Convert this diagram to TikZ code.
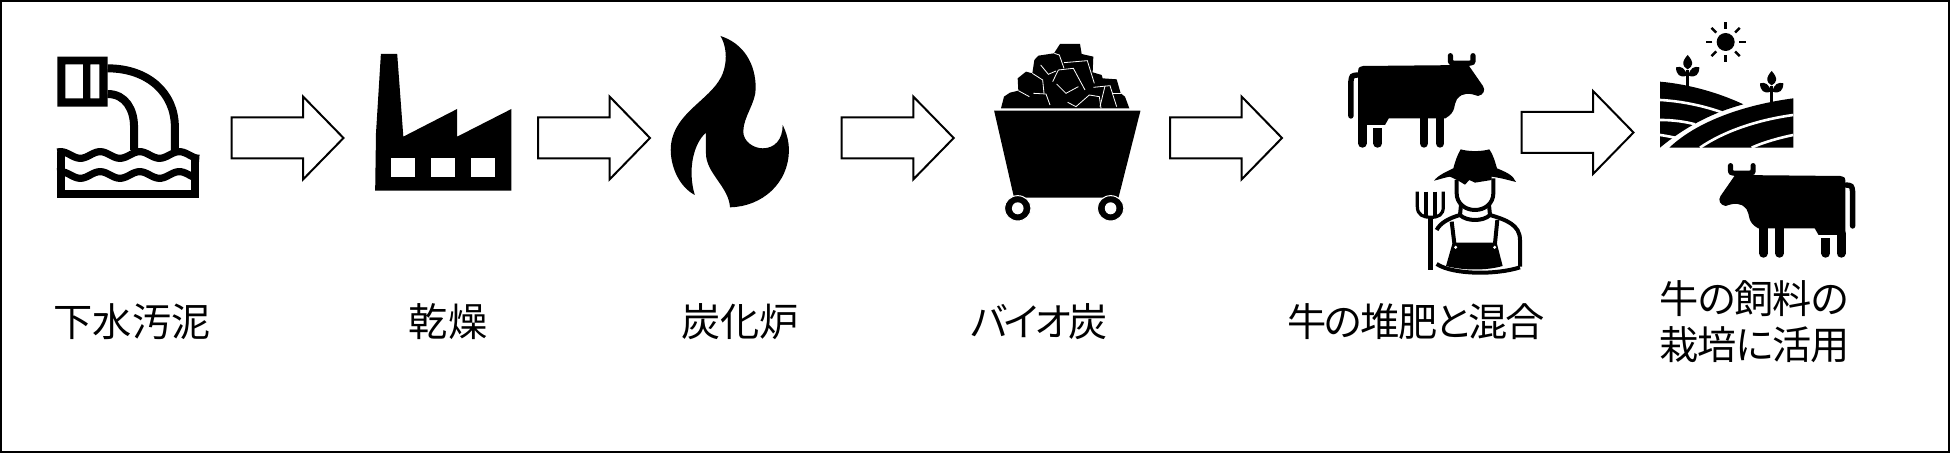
\documentclass[tikz,border=0pt]{standalone}
\usepackage{fontspec}
\newfontfamily\cjk[RawFeature=+palt]{Noto Sans CJK JP}
\usetikzlibrary{positioning, shapes.arrows}

\tikzset{
  flowarrow/.style={single arrow, draw, fill=white, line width=1pt, inner xsep=0pt, inner ysep=9.75pt, outer sep=0pt,
    minimum height=56pt, minimum width=40pt, single arrow head extend=10.4pt, single arrow tip angle=91.4},
  caption/.style={font={\cjk\fontsize{19.6pt}{23pt}\selectfont\lineskiplimit-100pt\relax}, inner sep=0pt, align=left},
  crack/.style={draw=white, line width=0.4pt},
  cow/.pic={
    \fill (152,190) .. controls (152,172) .. (165,168) -- (440,165) -- (478,228) .. controls (485,240) and (480,255) .. (465,258)
      .. controls (445,250) and (425,245) .. (410,268) .. controls (400,285) and (410,305) .. (380,325)
      -- (232,325) -- (222,345) -- (152,345) -- cycle;
    \draw[line width=2.6pt, line cap=round] (393,137) -- (393,148) .. controls (393,158) .. (405,160) -- (440,160) .. controls (452,158) .. (452,148) -- (452,137);
    \draw[line width=4.4pt, line cap=round] (163,340) -- (163,400);
    \draw[line width=4.4pt, line cap=round] (203,375) -- (203,400);
    \fill (192,355) rectangle (215,380);
    \draw[line width=4.4pt, line cap=round] (324,320) -- (324,400);
    \draw[line width=4.4pt, line cap=round] (366,320) -- (366,400);
    \draw[line width=2.7pt, line cap=round] (150,195) .. controls (135,197) .. (133,215) -- (133,318);
  },
  sprout/.pic={
    \draw[line width=1.2pt] (113,215) -- (113,165);
    \fill (113,120) .. controls (122,130) and (128,140) .. (126,148) .. controls (124,155) .. (113,163) .. controls (102,155) .. (100,148) .. controls (98,140) and (104,130) .. (113,120) -- cycle;
    \fill (78,157) .. controls (92,152) and (108,160) .. (110,182) .. controls (90,190) and (78,178) .. (78,157) -- cycle;
    \fill (148,157) .. controls (134,152) and (118,160) .. (116,182) .. controls (136,190) and (148,178) .. (148,157) -- cycle;
  }
}

\begin{document}
\begin{tikzpicture}[x=0.5pt, y=-0.5pt, node distance=50pt, on grid]
  \useasboundingbox (0,0) rectangle (1950,453);
  \draw[line width=1pt] (1,1) rectangle (1949,452);

  \begin{scope}[shift={(30,20)}, xscale=.408, yscale=.3333]
    \fill[even odd rule] (67,110) rectangle (190,260) (87,133) rectangle (130,235) (148,133) rectangle (170,235);
    \draw[line width=4pt] (190,145) .. controls (290,145) and (355,220) .. (355,320) -- (355,390);
    \draw[line width=4pt] (190,222) .. controls (235,222) and (255,270) .. (255,320) -- (255,390);
    \draw[line width=4pt] (77,395) -- (77,523) -- (405,523) -- (405,410);
    \draw[line width=3.6pt] plot[domain=67:415, samples=70] (\x, {405-10*cos(3.711*(\x-75))});
    \draw[line width=3.6pt] plot[domain=67:405, samples=70] (\x, {465-10*cos(3.711*(\x-75))});

    \fill (860,102) -- (900,102) -- (915,350) -- (1047,267) -- (1047,350) -- (1180,267) -- (1180,512) -- (846,512) -- (848,340) -- cycle;
    \fill[white] (885,415) rectangle (943,470);
    \fill[white] (983,415) rectangle (1041,470);
    \fill[white] (1081,415) rectangle (1140,470);
  \end{scope}

  \begin{scope}[shift={(650,20)}, xscale=.4146, yscale=.3333]
    \fill (170,48) .. controls (225,70) and (255,130) .. (255,205) .. controls (255,250) and (225,290) .. (225,335)
      .. controls (225,365) and (250,385) .. (272,385) .. controls (300,385) and (320,360) .. (320,315)
      .. controls (330,340) and (335,365) .. (335,390) .. controls (335,490) and (270,560) .. (193,562)
      .. controls (190,500) and (135,460) .. (135,400) -- (135,338) .. controls (105,370) and (90,450) .. (108,525)
      .. controls (70,500) and (50,440) .. (50,390) .. controls (50,290) and (130,250) .. (165,185)
      .. controls (185,150) and (190,90) .. (170,48) -- cycle;

    \fill (830,272) -- (1183,272) -- (1130,533) -- (878,533) -- cycle;
    \filldraw[draw=white, line width=0.5pt] (887,565) ellipse (32 and 38);
    \filldraw[draw=white, line width=0.5pt] (1111,565) ellipse (32 and 38);
    \fill[white] (887,565) ellipse (14 and 18);
    \fill[white] (1111,565) ellipse (14 and 18);
  \end{scope}

  \begin{scope}[shift={(1000,40)}, scale=.3333]
    \fill (3,205) -- (12,170) -- (30,158) -- (55,152) -- (53,115) -- (78,95) -- (97,100) -- (103,60) -- (115,47) -- (162,40) -- (180,12) -- (240,12) -- (245,42) -- (280,50) -- (278,97) -- (305,105) -- (308,115) -- (350,118) -- (362,160) -- (375,170) -- (388,205) -- cycle;
    \draw[crack] (163,40) -- (178,45) -- (192,85);
    \draw[crack] (192,68) -- (262,62) -- (283,130);
    \draw[crack] (122,75) -- (145,103) -- (168,93);
    \draw[crack] (158,125) -- (175,90) -- (220,85) -- (255,150);
    \draw[crack] (170,132) -- (198,160) -- (235,140);
    \draw[crack] (97,100) -- (128,120) -- (132,160);
    \draw[crack] (55,152) -- (88,170);
    \draw[crack] (100,160) -- (138,162) -- (150,195);
    \draw[crack] (203,187) -- (228,200) -- (268,165) -- (298,170) -- (303,205);
    \draw[crack] (280,142) -- (330,137) -- (350,200);
    \draw[crack] (300,200) -- (315,138);
    \draw[crack] (338,160) -- (362,160);
  \end{scope}

  \pic (cowa) [shift={(1300,10)}, xscale=.3827, yscale=.3333] {cow};
  \pic (cowb) [shift={(1903.5,120)}, xscale=-.3827, yscale=.3333] {cow};

  \begin{scope}[shift={(1410,160)}, scale=.3333]
    \fill (152,-32) .. controls (175,-25) and (215,-25) .. (238,-32) .. controls (250,-15) and (255,5) .. (261,25)
      .. controls (285,35) and (310,45) .. (318,66) .. controls (300,62) and (280,55) .. (245,50) -- (245,60) -- (195,68) -- (178,60) -- (165,74) -- (145,62) -- (120,50)
      .. controls (105,52) and (90,58) .. (72,62) .. controls (85,45) and (110,35) .. (130,25) .. controls (135,5) and (142,-15) .. (152,-32) -- cycle;
    \draw[line width=2pt] (140,60) -- (140,100) .. controls (140,130) and (165,150) .. (195,150) .. controls (225,150) and (250,130) .. (250,100) -- (250,55);
    \draw[line width=2pt] (153,135) -- (150,165) .. controls (170,185) and (220,185) .. (240,165) -- (237,135);
    \draw[line width=2pt] (150,165) .. controls (115,175) and (90,190) .. (80,210);
    \draw[line width=2pt] (240,165) .. controls (290,180) and (330,195) .. (330,240) -- (330,320);
    \draw[line width=2pt] (125,185) -- (133,250);
    \draw[line width=2pt] (262,180) -- (255,250);
    \fill (128,248) -- (260,248) -- (278,318) .. controls (230,332) and (160,332) .. (108,318) -- cycle;
    \fill[white] (137,262) circle (5);
    \fill[white] (254,262) circle (5);
    \draw[line width=2pt] (80,312) .. controls (130,345) and (260,345) .. (330,322);
    \draw[line width=1.6pt] (22,95) -- (22,140) .. controls (22,165) and (40,172) .. (62,172) .. controls (85,172) and (100,165) .. (100,140) -- (100,95);
    \draw[line width=1.6pt] (48,95) -- (48,172);
    \draw[line width=1.6pt] (75,95) -- (75,172);
    \draw[line width=2.4pt] (62,172) -- (62,330);
  \end{scope}

  \pic (sprouta) [shift={(1650,15)}, scale=.3333] {sprout};
  \pic (sproutb) [shift={(1734,31)}, scale=.3333] {sprout};

  \begin{scope}[shift={(1650,15)}, scale=.3333]
    \fill (227,81) circle (27);
    \foreach \a in {0,45,...,315}
      \draw[line width=1.2pt] (227,81) ++(\a:40) -- ++(\a:20);
    \fill (30,200) .. controls (120,208) and (210,235) .. (280,268) .. controls (180,295) and (100,340) .. (30,398) -- cycle;
    \draw[white, line width=1.3pt] (30,255) .. controls (90,258) and (160,272) .. (215,292);
    \draw[white, line width=1.3pt] (30,315) .. controls (70,315) and (105,320) .. (135,328);
    \draw[white, line width=1.3pt] (30,360) .. controls (45,362) and (60,365) .. (85,370);
    \fill (58,398) .. controls (140,320) and (280,270) .. (430,250) -- (430,398) -- cycle;
    \draw[white, line width=1.3pt] (150,398) .. controls (220,350) and (320,315) .. (430,300);
    \draw[white, line width=1.3pt] (305,398) .. controls (340,382) and (390,368) .. (430,360);
  \end{scope}

  \node[flowarrow] (dryin) at (277.5,138) {};
  \node[flowarrow] (charin) [right=153.25pt of dryin] {};
  \node[flowarrow] (biochar) [right=151.85pt of charin] {};
  \node[flowarrow] (mixin) [right=164.15pt of biochar] {};
  \node[flowarrow] (feedin) [above right=2.75pt and 175.75pt of mixin] {};

  \node[caption] (sludge) at (132,322) {下水汚泥};
  \node[caption] (dry) at (448,322) {乾燥};
  \node[caption] (furnace) at (740,322) {炭化炉};
  \node[caption] (char) at (1039,322) {\addfontfeature{LetterSpace=-8}バイオ炭};
  \node[caption] (mix) at (1416,322) {\addfontfeature{LetterSpace=-4.5}牛の堆肥と混合};
  \node[caption, anchor=west] (use) at (1659,322) {\addfontfeature{LetterSpace=-2.5}牛の飼料の\\\addfontfeature{LetterSpace=-2.5}栽培に活用};
\end{tikzpicture}
\end{document}
